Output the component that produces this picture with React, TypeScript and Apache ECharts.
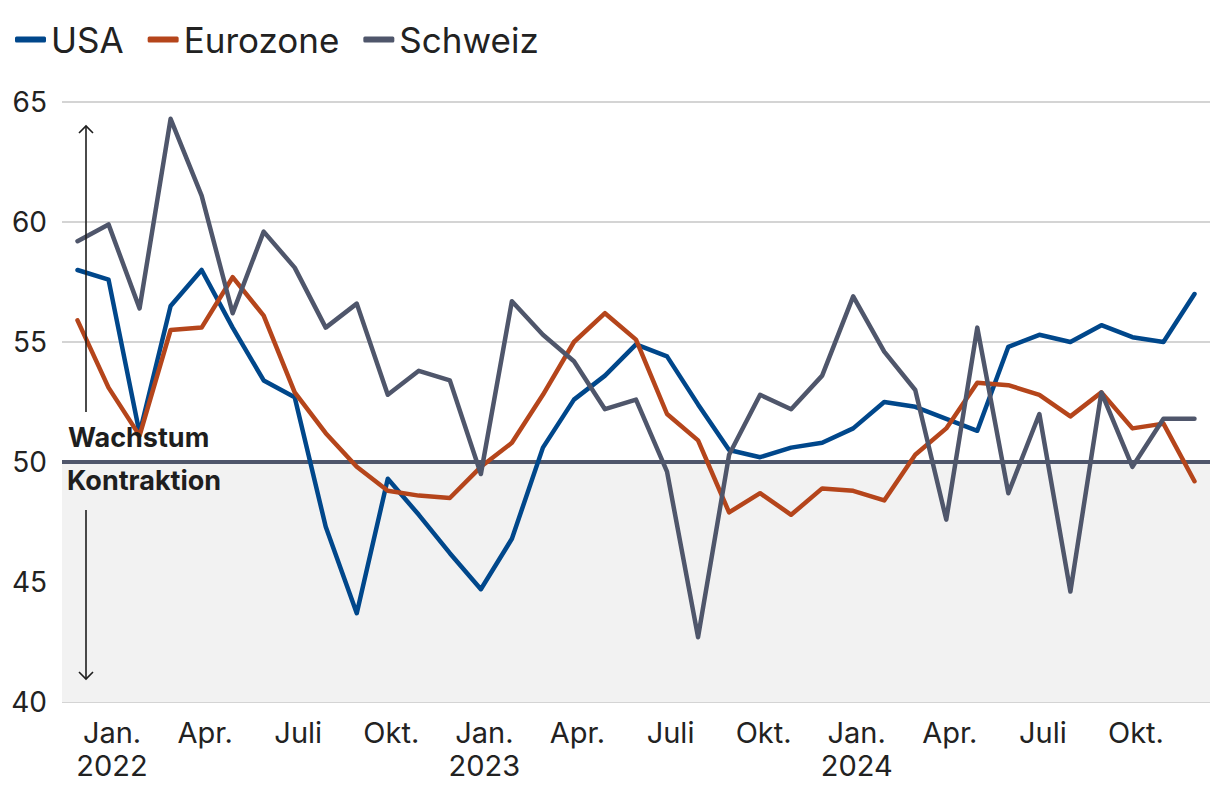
import React, { useEffect, useRef } from "react";
import * as echarts from "echarts";

const categories = [
  "2021-12",
  "2022-01", "2022-02", "2022-03", "2022-04", "2022-05", "2022-06",
  "2022-07", "2022-08", "2022-09", "2022-10", "2022-11", "2022-12",
  "2023-01", "2023-02", "2023-03", "2023-04", "2023-05", "2023-06",
  "2023-07", "2023-08", "2023-09", "2023-10", "2023-11", "2023-12",
  "2024-01", "2024-02", "2024-03", "2024-04", "2024-05", "2024-06",
  "2024-07", "2024-08", "2024-09", "2024-10", "2024-11", "2024-12",
];

const monthNames: Record<string, string> = { "01": "Jan.", "04": "Apr.", "07": "Juli", "10": "Okt." };

const usa = [
  58.0, 57.6, 51.2, 56.5, 58.0, 55.6, 53.4, 52.7, 47.3, 43.7, 49.3, 47.8, 46.2,
  44.7, 46.8, 50.6, 52.6, 53.6, 54.9, 54.4, 52.4, 50.5, 50.2, 50.6, 50.8,
  51.4, 52.5, 52.3, 51.8, 51.3, 54.8, 55.3, 55.0, 55.7, 55.2, 55.0, 57.0,
];

const eurozone = [
  55.9, 53.1, 51.1, 55.5, 55.6, 57.7, 56.1, 52.9, 51.2, 49.8, 48.8, 48.6, 48.5,
  49.8, 50.8, 52.8, 55.0, 56.2, 55.1, 52.0, 50.9, 47.9, 48.7, 47.8, 48.9,
  48.8, 48.4, 50.3, 51.4, 53.3, 53.2, 52.8, 51.9, 52.9, 51.4, 51.6, 49.2,
];

const schweiz = [
  59.2, 59.9, 56.4, 64.3, 61.1, 56.2, 59.6, 58.1, 55.6, 56.6, 52.8, 53.8, 53.4,
  49.5, 56.7, 55.3, 54.2, 52.2, 52.6, 49.6, 42.7, 50.3, 52.8, 52.2, 53.6,
  56.9, 54.6, 53.0, 47.6, 55.6, 48.7, 52.0, 44.6, 52.9, 49.8, 51.8, 51.8,
];

const threshold = 50;
const yMin = 40;
const yMax = 65;

const COLORS = { usa: "#00478b", euro: "#b5451b", ch: "#4f566b" };
const FONT = "Inter, 'Noto Sans', sans-serif";

export default function App() {
  const ref = useRef<HTMLDivElement>(null);

  useEffect(() => {
    if (!ref.current) return;
    const chart = echarts.init(ref.current, undefined, { renderer: "svg" });
    const lineSeries = (name: string, data: number[], color: string, extra: any = {}) => ({
      name,
      type: "line",
      data,
      symbol: "none",
      smooth: false,
      lineStyle: { color, width: 4.5, join: "round", cap: "round" },
      itemStyle: { color },
      z: 3,
      ...extra,
    });
    chart.setOption({
      animation: false,
      textStyle: { fontFamily: FONT },
      legend: {
        data: ["USA", "Eurozone", "Schweiz"],
        left: 10,
        top: 17,
        icon: "roundRect",
        itemWidth: 31,
        itemHeight: 6,
        itemGap: 24,
        textStyle: { fontSize: 35, color: "#222", fontFamily: FONT },
      },
      grid: { left: 62, right: 10, top: 102, bottom: 96, containLabel: false },
      xAxis: {
        type: "category",
        data: categories,
        boundaryGap: true,
        axisLine: { show: false },
        axisTick: { show: false },
        axisLabel: {
          interval: (_i: number, v: string) => !!monthNames[v.slice(5, 7)],
          formatter: (v: string) => {
            const m = v.slice(5, 7);
            const name = monthNames[m] || "";
            return m === "01" ? name + "\n" + v.slice(0, 4) : name;
          },
          fontSize: 29,
          lineHeight: 33,
          color: "#222",
          margin: 14,
          padding: [0, 0, 0, 7],
          fontFamily: FONT,
          verticalAlign: "top",
        },
        splitLine: { show: false },
      },
      yAxis: {
        type: "value",
        min: yMin,
        max: yMax,
        interval: 5,
        axisLine: { show: false },
        axisTick: { show: false },
        axisLabel: { fontSize: 28, color: "#222", margin: 15, fontFamily: FONT },
        splitLine: { lineStyle: { color: "#d4d4d4", width: 2 } },
      },
      series: [
        lineSeries("USA", usa, COLORS.usa, {
          markArea: {
            silent: true,
            z: 1,
            itemStyle: { color: "#f2f2f2" },
            data: [[{ yAxis: yMin }, { yAxis: threshold }]],
          },
          markLine: {
            silent: true,
            z: 2,
            symbol: ["none", "none"],
            label: { show: false },
            lineStyle: { color: COLORS.ch, width: 4, type: "solid" },
            data: [{ yAxis: threshold }],
          },
        }),
        lineSeries("Eurozone", eurozone, COLORS.euro),
        lineSeries("Schweiz", schweiz, COLORS.ch),
      ],
      graphic: [
        {
          type: "text",
          left: 68,
          top: 424,
          z: 10,
          style: { text: "Wachstum", fontSize: 27, fontWeight: "bold", fill: "#1e1e1e", fontFamily: FONT },
        },
        {
          type: "text",
          left: 67,
          top: 467,
          z: 10,
          style: { text: "Kontraktion", fontSize: 27, fontWeight: "bold", fill: "#1e1e1e", fontFamily: FONT },
        },
        {
          type: "line",
          z: 10,
          shape: { x1: 86, y1: 126, x2: 86, y2: 412 },
          style: { stroke: "#1e1e1e", lineWidth: 1.6 },
        },
        {
          type: "polyline",
          z: 10,
          shape: { points: [[79, 133], [86, 126], [93, 133]] },
          style: { stroke: "#1e1e1e", lineWidth: 1.6, fill: "none" },
        },
        {
          type: "line",
          z: 10,
          shape: { x1: 86, y1: 510, x2: 86, y2: 679 },
          style: { stroke: "#1e1e1e", lineWidth: 1.6 },
        },
        {
          type: "polyline",
          z: 10,
          shape: { points: [[79, 672], [86, 679], [93, 672]] },
          style: { stroke: "#1e1e1e", lineWidth: 1.6, fill: "none" },
        },
      ],
    });
    return () => chart.dispose();
  }, []);

  return (
    <div
      ref={ref}
      style={{ position: "fixed", left: 0, top: 0, width: 1220, height: 798, background: "#fff" }}
    />
  );
}
